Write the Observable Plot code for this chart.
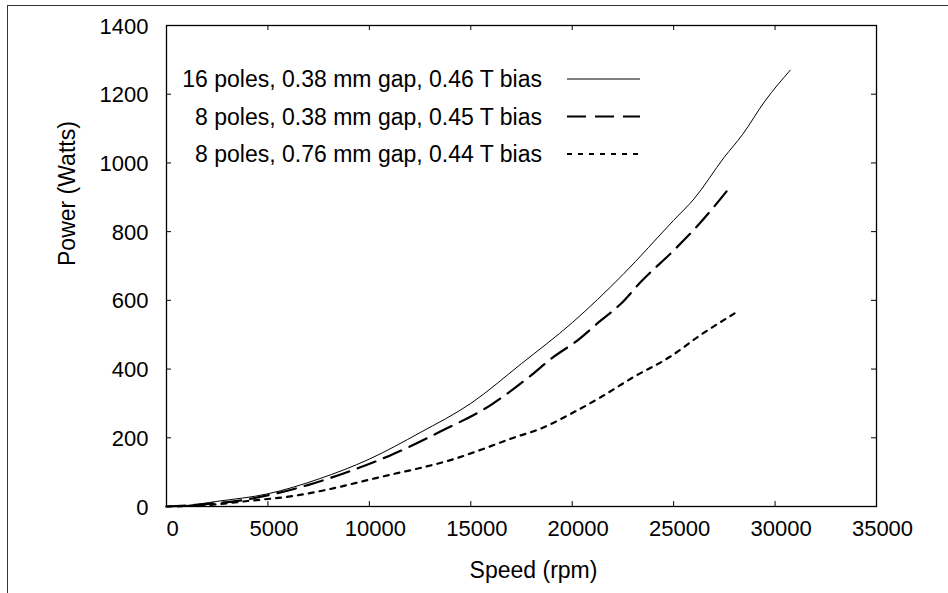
<!DOCTYPE html>
<html><head><meta charset="utf-8">
<script src="https://cdn.jsdelivr.net/npm/d3@7"></script>
<script src="https://cdn.jsdelivr.net/npm/@observablehq/plot@0.6"></script>
<style>
html,body{margin:0;padding:0;background:#fff;}
#wrap{position:relative;width:948px;height:593px;overflow:hidden;}
#frame{position:absolute;left:7px;top:5px;width:960px;height:600px;border-top:1.5px solid #333;border-left:1.5px solid #333;}
#legend{position:absolute;left:0;top:0;}
</style></head>
<body><div id="wrap"><div id="frame"></div></div>
<script>
const seriesNames = [
  "16 poles, 0.38 mm gap, 0.46 T bias",
  "8 poles, 0.38 mm gap, 0.45 T bias",
  "8 poles, 0.76 mm gap, 0.44 T bias"
];
const speed16 = [0,1000,2500,5000,7500,10000,12500,15000,17500,20000,22500,25000,26000,27500,28400,29500,30750];
const power16 = [0,3,15,37,80,138,215,300,416,535,675,833,895,1017,1083,1180,1270];
const speed8a = [0,1500,4000,7000,9000,11000,13500,16000,18000,19000,20250,21400,22400,23400,25000,26300,27850];
const power8a = [0,5,21,63,102,148,218,296,383,432,483,541,590,655,745,825,935];
const speed8b = [0,2000,4000,6500,8000,10000,11000,12500,14000,15500,17000,18500,20000,21400,23000,24800,26300,28000];
const power8b = [0,4,16,33,50,78,92,112,135,165,198,228,272,318,376,435,498,562];
const xTicks = [0,5000,10000,15000,20000,25000,30000,35000];
const yTicks = [0,200,400,600,800,1000,1200,1400];
const xLabel = "Speed (rpm)";
const yLabel = "Power (Watts)";

const styles = [
  {strokeWidth:1, dash:null},
  {strokeWidth:2.2, dash:"19,9"},
  {strokeWidth:2.2, dash:"5,6"}
];
const toRows = (xs, ys, s) => xs.map((x,i)=>({speed:x, power:ys[i], s}));
const d16 = toRows(speed16, power16, 0);
const d8a = toRows(speed8a, power8a, 1);
const d8b = toRows(speed8b, power8b, 2);

const font = "Liberation Sans, Arial, Helvetica, sans-serif";
const W = 948, H = 593, mL = 166, mR = 72, mT = 25, mB = 87;
const fw = W - mL - mR, fh = H - mT - mB, tk = 5;
const plot = Plot.plot({
  width: W, height: H,
  marginLeft: mL, marginRight: mR, marginTop: mT, marginBottom: mB,
  style: {fontFamily: font, fontSize: "22px", background: "transparent", color: "#000"},
  x: {domain: [0, 35000], ticks: xTicks},
  y: {domain: [0, 1400], ticks: yTicks},
  marks: [
    Plot.frame({stroke: "#000", strokeWidth: 1.3}),
    // inward ticks on all four sides
    Plot.tickX(xTicks, {x: d=>d, insetTop: fh - tk, stroke: "#000", strokeWidth: 1}),
    Plot.tickX(xTicks, {x: d=>d, insetBottom: fh - tk, stroke: "#000", strokeWidth: 1}),
    Plot.tickY(yTicks, {y: d=>d, insetRight: fw - tk, stroke: "#000", strokeWidth: 1}),
    Plot.tickY(yTicks, {y: d=>d, insetLeft: fw - tk, stroke: "#000", strokeWidth: 1}),
    Plot.axisX({anchor: "bottom", ticks: xTicks, tickSize: 0, tickFormat: d=>String(d), tickPadding: 14, dx: 6, fontSize: 22, label: null}),
    Plot.axisY({anchor: "left", ticks: yTicks, tickSize: 0, tickFormat: d=>String(d), tickPadding: 18, dy: 1, fontSize: 22, label: null}),
    Plot.text([xLabel], {frameAnchor: "bottom", text: d=>d, dx: 12, dy: 64, fontSize: 23, lineAnchor: "middle"}),
    Plot.text([yLabel], {frameAnchor: "left", text: d=>d, dx: -99, rotate: -90, fontSize: 23, lineAnchor: "middle"}),
    Plot.line(d16, {x: "speed", y: "power", curve: "monotone-x", stroke: "#000", strokeWidth: styles[0].strokeWidth}),
    Plot.line(d8a, {x: "speed", y: "power", curve: "monotone-x", stroke: "#000", strokeWidth: styles[1].strokeWidth, strokeDasharray: styles[1].dash}),
    Plot.line(d8b, {x: "speed", y: "power", curve: "monotone-x", stroke: "#000", strokeWidth: styles[2].strokeWidth, strokeDasharray: styles[2].dash})
  ]
});
plot.style.position = "absolute";
plot.style.left = "0px";
plot.style.top = "0px";
document.getElementById("wrap").appendChild(plot);

// legend overlay (top-left inside plot area)
const svg = d3.select("#wrap").append("svg").attr("id","legend").attr("width",W).attr("height",H);
const rowY = [79, 116.5, 154];
seriesNames.forEach((name,i)=>{
  svg.append("text").attr("x",542).attr("y",rowY[i]).attr("dy","0.35em")
    .attr("text-anchor","end").attr("font-family",font).attr("font-size",23).attr("fill","#000").text(name);
  svg.append("line").attr("x1",567).attr("x2",640).attr("y1",rowY[i]).attr("y2",rowY[i])
    .attr("stroke","#000").attr("stroke-width",styles[i].strokeWidth)
    .attr("stroke-dasharray",styles[i].dash);
});
</script></body></html>
